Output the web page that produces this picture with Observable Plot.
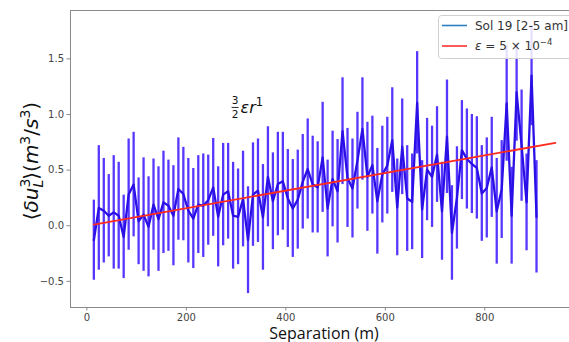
<!DOCTYPE html>
<html><head><meta charset="utf-8">
<script src="https://cdn.jsdelivr.net/npm/d3@7"></script>
<script src="https://cdn.jsdelivr.net/npm/@observablehq/plot@0.6"></script>
<style>
html,body{margin:0;padding:0;background:#fff;overflow:hidden;width:569px;height:342px;}
#chart{position:relative;width:569px;height:342px;overflow:hidden;}
#chart svg{display:block;max-width:none !important;}
</style></head><body><div id="chart"></div>
<script>
// Separation (m) of each structure-function point
const separation = [14,24,34,44,54,64,74,84,94,104,114,124,134,144,154,164,174,184,194,204,
  214,224,234,244,254,264,274,284,294,304,314,324,334,344,354,364,374,384,394,404,
  414,424,434,444,454,464,474,484,494,504,514,524,534,544,554,564,574,584,594,604,
  614,624,634,644,654,664,674,684,694,704,714,724,734,744,754,764,774,784,794,804,
  814,824,834,844,854,864,874,884,894,904];
// Mean third-order structure function <du_L^3> (m^3/s^3), Sol 19 [2-5 am]
const meanValue = [-0.13,0.16,0.135,0.09,0.12,0.09,-0.10,0.28,0.37,0.04,
  0.10,-0.01,0.19,0.06,0.21,0.18,0.09,0.33,0.285,0.135,
  0.065,0.19,0.18,0.23,0.345,0.08,0.28,0.31,0.09,0.08,
  0.24,-0.13,0.28,0.315,0.075,0.44,0.22,0.375,0.40,0.245,
  0.155,0.235,0.395,0.51,0.37,0.345,0.615,0.155,0.42,0.31,
  0.85,0.43,0.335,0.585,0.87,0.44,0.545,0.22,0.46,0.54,
  0.77,0.165,0.71,0.245,0.215,1.105,0.145,0.505,0.44,0.64,
  0.13,0.80,-0.065,0.25,0.68,0.60,0.555,0.52,0.29,0.34,
  0.525,0.13,0.325,1.10,0.09,1.20,0.72,0.21,1.35,0.08];
// Half-length of each error bar
const errorValue = [0.36,0.56,0.47,0.37,0.51,0.48,0.375,0.50,0.47,0.39,
  0.51,0.45,0.41,0.47,0.46,0.41,0.45,0.46,0.42,0.47,
  0.45,0.44,0.465,0.405,0.44,0.45,0.46,0.43,0.48,0.43,
  0.43,0.48,0.465,0.465,0.475,0.45,0.435,0.465,0.44,0.44,
  0.44,0.445,0.425,0.45,0.435,0.41,0.495,0.435,0.43,0.465,
  0.48,0.445,0.445,0.435,0.46,0.49,0.44,0.475,0.435,0.435,
  0.47,0.435,0.43,0.475,0.43,0.46,0.44,0.46,0.455,0.43,
  0.44,0.51,0.425,0.46,0.445,0.45,0.445,0.46,0.43,0.45,
  0.45,0.475,0.44,0.52,0.435,0.44,0.50,0.435,0.45,0.505];
// Fit line (3/2) eps r, eps = 5e-4
const fitSeparation = [14, 942];
const fitValue = [0.01, 0.745];

const xTicks = [0, 200, 400, 600, 800];
const xTickLabels = ["0", "200", "400", "600", "800"];
const yTicks = [-0.5, 0, 0.5, 1.0, 1.5];
const yTickLabels = ["\u22120.5", "0.0", "0.5", "1.0", "1.5"];
const legendLabels = ["Sol 19 [2-5 am]", "\u03b5 = 5 \u00d7 10\u207b\u2074"];
const xLabel = "Separation (m)";

const rows = separation.map((r, i) => ({r, v: meanValue[i], lo: meanValue[i] - errorValue[i], hi: meanValue[i] + errorValue[i]}));
const fitRows = fitSeparation.map((r, i) => ({r, v: fitValue[i]}));

const barColor = "#5637ff";
const lineColor = "#2a10e6";
const fitColor = "#ff2a1f";
const axisColor = "#8a8a8a";
const labelColor = "#444";

const chart = Plot.plot({
  width: 580, height: 342,
  marginLeft: 70, marginRight: 2, marginTop: 10, marginBottom: 35,
  style: {fontFamily: "DejaVu Sans", fontSize: "10px", background: "white", maxWidth: "none"},
  x: {domain: [-32.9, 988.4]},
  y: {domain: [-0.735, 1.935]},
  marks: [
    Plot.ruleX(rows, {x: "r", y1: "lo", y2: "hi", stroke: barColor, strokeWidth: 2.3}),
    Plot.line(rows, {x: "r", y: "v", stroke: lineColor, strokeWidth: 2.3}),
    Plot.line(fitRows, {x: "r", y: "v", stroke: fitColor, strokeWidth: 1.8}),
    Plot.frame({stroke: axisColor}),
    Plot.axisX({ticks: xTicks, tickFormat: d => xTickLabels[xTicks.indexOf(d)], tickSize: 3.5, tickPadding: 3,
      label: null, stroke: axisColor, fill: labelColor, fontSize: 10}),
    Plot.axisY({ticks: yTicks, tickFormat: d => yTickLabels[yTicks.indexOf(d)], tickSize: 3.5, tickPadding: 3,
      label: null, stroke: axisColor, fill: labelColor, fontSize: 10})
  ]
});
chart.style.maxWidth = "none";

const svg = d3.select(chart);
const sx = chart.scale("x"), sy = chart.scale("y");

// x-axis label
svg.append("text").attr("x", 324).attr("y", 339).attr("text-anchor", "middle")
  .attr("font-family", "Open Sans").attr("font-size", 16).attr("fill", "#111").text(xLabel);

// y-axis label: <δu_L^3>(m^3/s^3)
const yl = svg.append("text").attr("transform", "translate(38,161) rotate(-90)")
  .attr("text-anchor", "middle").attr("font-family", "DejaVu Sans").attr("font-size", 20).attr("fill", "#111");
yl.append("tspan").text("\u27e8");
yl.append("tspan").attr("font-style", "italic").text("\u03b4u");
yl.append("tspan").attr("font-size", 14).attr("dy", -8).text("3");
yl.append("tspan").attr("font-size", 14).attr("font-style", "italic").attr("dx", -9).attr("dy", 13).text("L");
yl.append("tspan").attr("dy", -5).text("\u27e9(");
yl.append("tspan").attr("font-style", "italic").text("m");
yl.append("tspan").attr("font-size", 14).attr("dy", -8).text("3");
yl.append("tspan").attr("dy", 8).text("/");
yl.append("tspan").attr("font-style", "italic").text("s");
yl.append("tspan").attr("font-size", 14).attr("dy", -8).text("3");
yl.append("tspan").attr("dy", 8).text(")");

// annotation 3/2 eps r^1
const ax = sx.apply(292), ay = sy.apply(1.005);
const ann = svg.append("g").attr("fill", "#111").attr("font-family", "DejaVu Sans");
ann.append("text").attr("x", ax + 3.5).attr("y", ay - 9).attr("text-anchor", "middle").attr("font-size", 10.5).text("3");
ann.append("line").attr("x1", ax).attr("x2", ax + 7).attr("y1", ay - 6).attr("y2", ay - 6).attr("stroke", "#111").attr("stroke-width", 0.9);
ann.append("text").attr("x", ax + 3.5).attr("y", ay + 5).attr("text-anchor", "middle").attr("font-size", 10.5).text("2");
const er = ann.append("text").attr("x", ax + 9).attr("y", ay).attr("text-anchor", "start").attr("font-size", 16);
er.append("tspan").attr("font-style", "italic").text("\u03b5r");
er.append("tspan").attr("font-size", 11.5).attr("dy", -7).text("1");

// legend
const lg = svg.append("g").attr("text-anchor", "start");
lg.append("rect").attr("x", 438.5).attr("y", 15.5).attr("width", 150).attr("height", 43).attr("rx", 3)
  .attr("fill", "white").attr("fill-opacity", 0.85).attr("stroke", "#d0d0d0");
lg.append("line").attr("x1", 442).attr("x2", 467).attr("y1", 25.5).attr("y2", 25.5).attr("stroke", "#2f7fc4").attr("stroke-width", 1.6);
lg.append("line").attr("x1", 442).attr("x2", 467).attr("y1", 46).attr("y2", 46).attr("stroke", "#ff3030").attr("stroke-width", 1.6);
lg.append("text").attr("x", 475).attr("y", 30).attr("text-anchor", "start").attr("font-family", "DejaVu Sans").attr("font-size", 12).attr("fill", "#333").text(legendLabels[0]);
const l2 = lg.append("text").attr("x", 475).attr("y", 50).attr("text-anchor", "start").attr("font-family", "DejaVu Sans").attr("font-size", 12).attr("fill", "#333");
l2.append("tspan").attr("font-style", "italic").text("\u03b5");
l2.append("tspan").text(" = 5 \u00d7 10");
l2.append("tspan").attr("font-size", 8.5).attr("dy", -5).text("\u22124");

document.getElementById("chart").appendChild(chart);
</script>
</body></html>
